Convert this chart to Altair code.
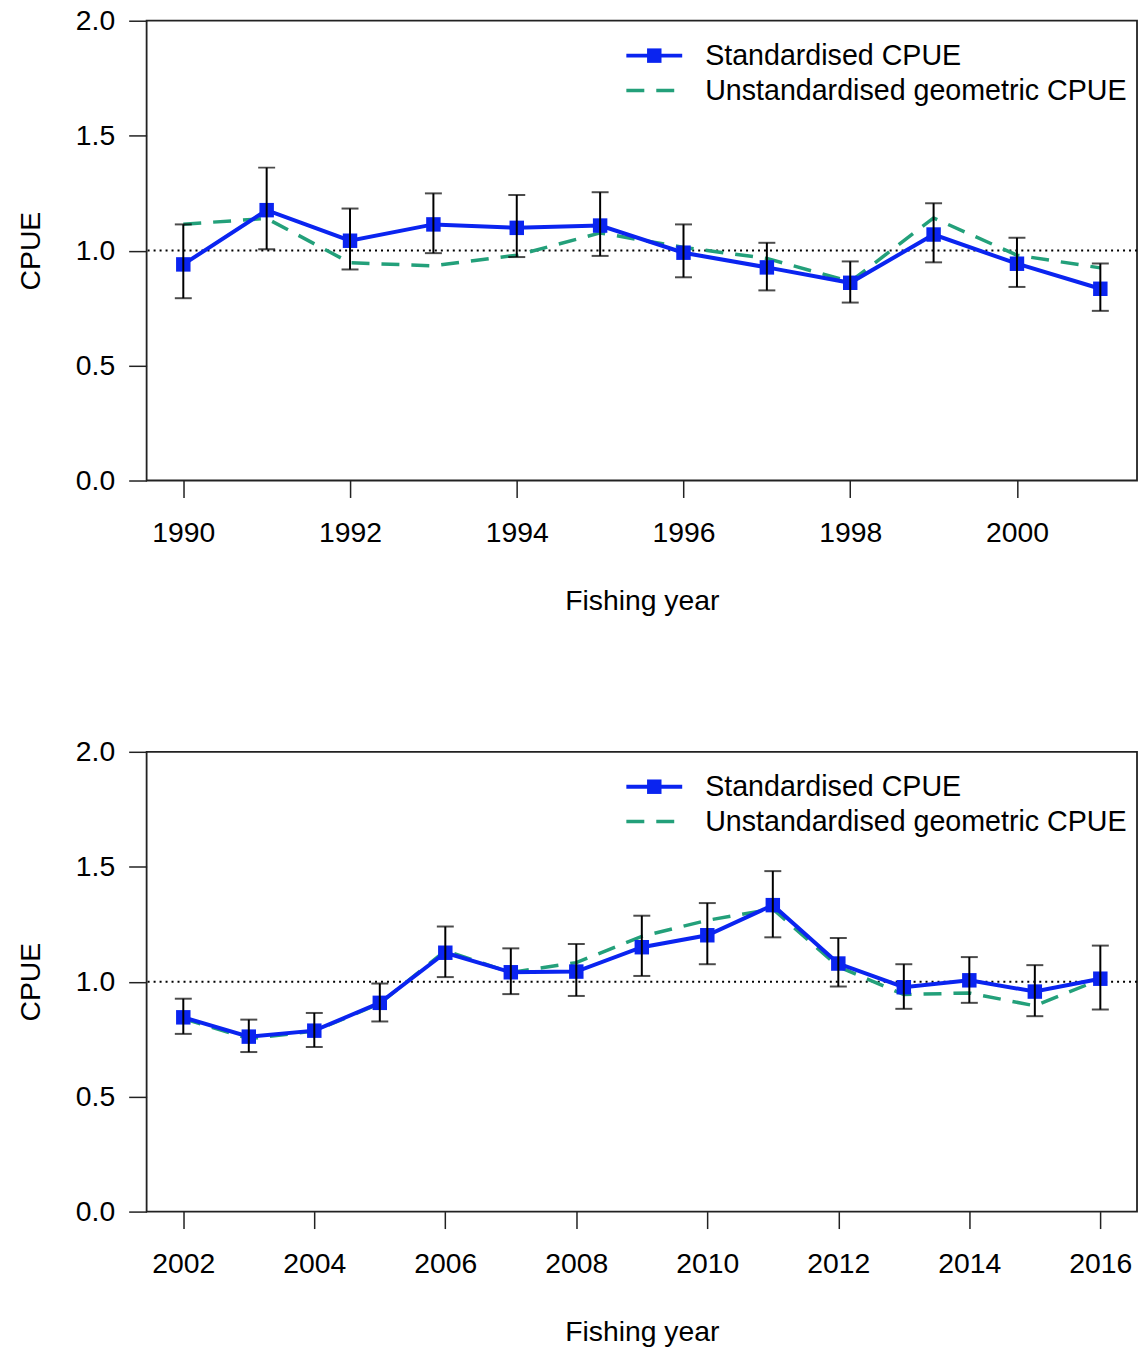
import altair as alt
import pandas as pd

# ---- data ----
years1 = list(range(1990, 2002))
std1 = [0.940, 1.176, 1.043, 1.114, 1.099, 1.109, 0.991, 0.927, 0.860, 1.070, 0.943, 0.834]
lo1 = [0.793, 1.006, 0.918, 0.989, 0.972, 0.977, 0.884, 0.827, 0.774, 0.949, 0.842, 0.738]
hi1 = [1.114, 1.361, 1.183, 1.249, 1.242, 1.254, 1.114, 1.034, 0.953, 1.206, 1.056, 0.944]
geo1 = [1.115, 1.140, 0.947, 0.934, 0.980, 1.077, 1.014, 0.966, 0.865, 1.142, 0.980, 0.925]

years2 = list(range(2002, 2017))
std2 = [0.845, 0.761, 0.787, 0.908, 1.126, 1.041, 1.044, 1.150, 1.202, 1.333, 1.079, 0.976, 1.006, 0.957, 1.013]
lo2 = [0.773, 0.694, 0.716, 0.827, 1.020, 0.946, 0.938, 1.025, 1.076, 1.193, 0.979, 0.882, 0.908, 0.850, 0.879]
hi2 = [0.926, 0.835, 0.864, 0.992, 1.240, 1.145, 1.164, 1.287, 1.342, 1.481, 1.190, 1.076, 1.107, 1.072, 1.157]
geo2 = [0.840, 0.752, 0.785, 0.905, 1.135, 1.040, 1.083, 1.197, 1.267, 1.317, 1.065, 0.944, 0.951, 0.895, 1.010]

xticks1 = [1990, 1992, 1994, 1996, 1998, 2000]
xticks2 = [2002, 2004, 2006, 2008, 2010, 2012, 2014, 2016]
yticks = [0.0, 0.5, 1.0, 1.5, 2.0]
ref_value = [1.0]
legend_labels = ["Standardised CPUE", "Unstandardised geometric CPUE"]

BLUE = "#0a24f0"
GREEN = "#23a07a"
FONT = "Liberation Sans"
W, H = 993, 461


def panel(years, std, lo, hi, geo, xticks):
    df = pd.DataFrame({"year": years, "std": std, "lo": lo, "hi": hi, "geo": geo})
    span = max(years) - min(years)
    xdom = [min(years) - 0.04 * span, max(years) + 0.04 * span]
    x = alt.X("year:Q",
              scale=alt.Scale(domain=xdom, nice=False, zero=False),
              axis=alt.Axis(values=xticks, format="d", title="Fishing year",
                            grid=False, domain=False, tickSize=17, tickWidth=1.5,
                            tickColor="#222", labelPadding=22, titlePadding=41,
                            labelFontSize=28.4, titleFontSize=28.4, labelColor="black",
                            titleColor="black", titleFontWeight="normal",
                            labelFont=FONT, titleFont=FONT))
    yaxis = alt.Axis(values=yticks, format=".1f", title="CPUE", grid=False,
                     domain=False, tickSize=18, tickWidth=1.5, tickColor="#222",
                     labelPadding=14, titlePadding=30, labelFontSize=28.4,
                     titleFontSize=28.4, labelColor="black", titleColor="black",
                     titleFontWeight="normal", labelFont=FONT, titleFont=FONT)
    ysc = alt.Scale(domain=[0, 2], nice=False, zero=False)

    base = alt.Chart(df)
    ref = alt.Chart(pd.DataFrame({"ref": ref_value})).mark_rule(
        color="black", strokeDash=[2, 4], strokeWidth=2
    ).encode(y=alt.Y("ref:Q", scale=ysc, axis=yaxis))

    geo_line = base.mark_line(color=GREEN, strokeDash=[18, 12], strokeWidth=3.5).encode(
        x=x, y=alt.Y("geo:Q", scale=ysc, axis=yaxis))
    std_line = base.mark_line(color=BLUE, strokeWidth=4).encode(
        x=x, y=alt.Y("std:Q", scale=ysc, axis=yaxis))
    std_pts = base.mark_point(shape="square", filled=True, size=210, opacity=1,
                              color=BLUE).encode(
        x=x, y=alt.Y("std:Q", scale=ysc, axis=yaxis))
    err = base.mark_rule(color="black", strokeWidth=2).encode(
        x=x, y=alt.Y("lo:Q", scale=ysc, axis=yaxis), y2="hi:Q")
    cap_lo = base.mark_tick(orient="horizontal", size=17, thickness=2, color="black").encode(
        x=x, y=alt.Y("lo:Q", scale=ysc, axis=yaxis))
    cap_hi = base.mark_tick(orient="horizontal", size=17, thickness=2, color="black").encode(
        x=x, y=alt.Y("hi:Q", scale=ysc, axis=yaxis))

    # legend (top right, no box)
    leg1_line = alt.Chart().mark_rule(color=BLUE, strokeWidth=4).encode(
        x=alt.value(481), x2=alt.value(537), y=alt.value(35))
    leg1_pt = alt.Chart().mark_point(shape="square", filled=True, size=210, opacity=1,
                                     color=BLUE).encode(x=alt.value(509), y=alt.value(35))
    leg1_txt = alt.Chart().mark_text(text=legend_labels[0], align="left", baseline="middle",
                                     fontSize=28.7, font=FONT, color="black").encode(
        x=alt.value(560), y=alt.value(35))
    leg2_line = alt.Chart().mark_rule(color=GREEN, strokeWidth=3.5, strokeDash=[18, 12]).encode(
        x=alt.value(481), x2=alt.value(537), y=alt.value(70))
    leg2_txt = alt.Chart().mark_text(text=legend_labels[1], align="left", baseline="middle",
                                     fontSize=28.7, font=FONT, color="black").encode(
        x=alt.value(560), y=alt.value(70))

    return alt.layer(ref, geo_line, std_line, std_pts, err, cap_lo, cap_hi,
                     leg1_line, leg1_pt, leg1_txt, leg2_line, leg2_txt).properties(
        width=W, height=H)


top = panel(years1, std1, lo1, hi1, geo1, xticks1)
bottom = panel(years2, std2, lo2, hi2, geo2, xticks2)

chart = alt.vconcat(top, bottom, spacing=121).properties(
    padding={"left": 15, "top": 4, "right": 2, "bottom": 2},
    background="white",
).configure_view(stroke="#222", strokeWidth=1.8)

chart.save("out.html", embed_options={"renderer": "svg", "actions": False})
